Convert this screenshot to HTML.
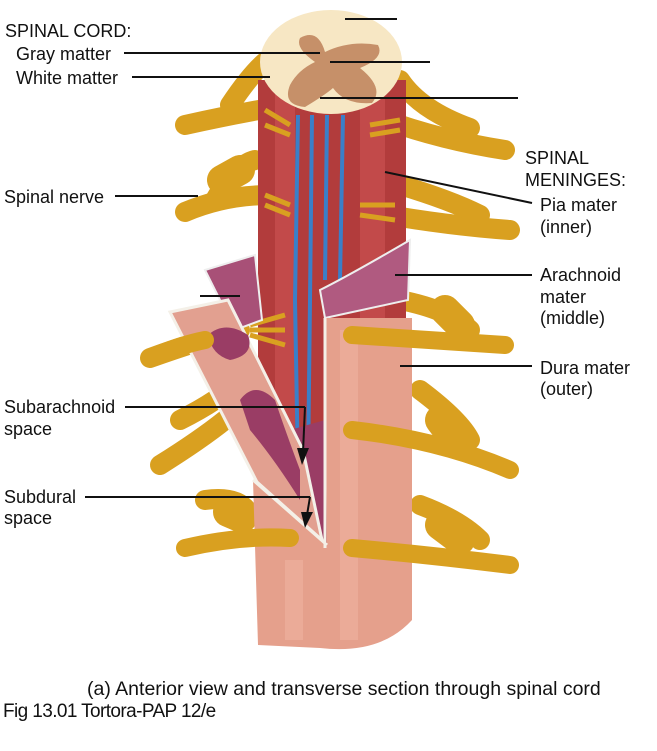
<!DOCTYPE html>
<html><head><meta charset="utf-8"><style>
body{margin:0;background:#fff;}
svg{display:block}
text{font-family:"Liberation Sans",sans-serif;font-size:18px;fill:#111}
</style></head><body>
<svg width="657" height="751" viewBox="0 0 657 751" xmlns="http://www.w3.org/2000/svg">
<g stroke-linecap="round" fill="none">
<g stroke="#d9a020" stroke-width="20">
<path d="M185 125 Q230 115 270 108"/>
<path d="M230 105 Q250 75 265 62"/>
<path d="M380 118 Q440 140 505 150"/>
<path d="M400 80 Q420 110 470 128"/>
<path d="M185 212 Q225 195 270 195"/>
<path d="M215 200 Q235 165 255 160"/>
<path d="M360 210 Q440 225 510 230"/>
<path d="M400 185 Q450 200 480 215"/>
<path d="M150 358 Q200 340 240 330"/>
<path d="M400 300 Q450 310 470 330"/>
<path d="M160 465 Q200 440 225 420"/>
<path d="M180 420 Q200 410 215 400"/>
<path d="M420 390 Q460 420 470 440"/>
<path d="M205 500 Q240 495 250 515"/>
<path d="M420 505 Q460 520 480 540"/>
</g>
<g stroke="#d9a020" stroke-width="30">
<path d="M222 180 L240 170"/>
<path d="M445 310 L460 325"/>
<path d="M440 420 L455 440"/>
<path d="M440 525 L460 540"/>
<path d="M228 512 L242 518"/>
</g>
</g>
<rect x="258" y="80" width="148" height="470" fill="#b23c3c"/>
<rect x="275" y="90" width="20" height="450" fill="#c95050" opacity=".7"/>
<rect x="360" y="90" width="25" height="280" fill="#c95050" opacity=".7"/>
<g stroke="#3a7fc8" stroke-width="4" fill="none">
<path d="M298 115 L295 300 L298 470"/>
<path d="M312 115 L310 300 L308 470"/>
<path d="M327 115 L325 280"/>
<path d="M343 115 L340 280"/>
</g>
<g stroke="#d9a020" stroke-width="5">
<path d="M265 110 L290 125 M265 125 L290 135 M370 125 L400 120 M370 135 L400 130"/>
<path d="M265 195 L290 205 M265 205 L290 215 M360 205 L395 205 M360 215 L395 220"/>
<path d="M250 325 L285 315 M250 330 L285 330 M250 335 L285 345"/>
</g>
<polygon points="205,270 255,255 262,320 235,330" fill="#a85077" stroke="#eee" stroke-width="2"/>
<path d="M320 290 Q350 275 410 240 L408 300 L325 318 Z" fill="#b05a80" stroke="#eee" stroke-width="2"/>
<polygon points="290,430 325,420 325,548 300,520" fill="#9a3d65"/>
<path d="M325 318 L412 318 L412 620 Q380 655 320 648 L258 645 L253 480 L327 545 Z" fill="#e5a08c"/>
<path d="M170 312 L228 300 L303 450 L322 540 L257 482 Z" fill="#e2a090" stroke="#f4f0e8" stroke-width="3"/>
<path d="M208 335 Q225 320 248 335 Q255 355 230 360 Q212 355 208 335 Z" fill="#9a3d65"/>
<path d="M240 400 Q255 380 275 400 Q285 430 300 470 L300 500 Q275 460 250 430 Z" fill="#9a3d65"/>
<path d="M325 318 L325 548" stroke="#f4f0e8" stroke-width="3"/>
<path d="M253 480 L327 545" stroke="#f4f0e8" stroke-width="3"/>
<rect x="340" y="330" width="18" height="310" fill="#eeb2a0" opacity=".6"/>
<rect x="285" y="560" width="18" height="80" fill="#eeb2a0" opacity=".6"/>
<g stroke="#d9a020" stroke-width="18" stroke-linecap="round" fill="none">
<path d="M352 335 Q430 340 505 345"/>
<path d="M352 430 Q440 440 510 470"/>
<path d="M352 548 Q430 555 510 565"/>
<path d="M185 548 Q240 535 290 538"/>
<path d="M150 358 Q180 345 205 340"/>
</g>
<ellipse cx="331" cy="62" rx="71" ry="52" fill="#f7e7c4"/>
<path d="M300 38 Q318 28 325 52 Q350 40 378 45 Q385 58 360 68 Q385 88 372 103 Q345 105 333 88 Q325 95 305 107 Q282 105 290 85 Q298 70 315 62 Q295 48 300 38Z" fill="#c69069"/>
<g stroke="#111" stroke-width="2">
<line x1="345" y1="19" x2="397" y2="19"/>
<line x1="124" y1="53" x2="320" y2="53"/>
<line x1="132" y1="77" x2="270" y2="77"/>
<line x1="330" y1="62" x2="430" y2="62"/>
<line x1="320" y1="98" x2="518" y2="98"/>
<line x1="115" y1="196" x2="198" y2="196"/>
<line x1="385" y1="172" x2="532" y2="203"/>
<line x1="395" y1="275" x2="532" y2="275"/>
<line x1="200" y1="296" x2="240" y2="296"/>
<line x1="400" y1="366" x2="532" y2="366"/>
<line x1="125" y1="407" x2="305" y2="407"/>
<line x1="305" y1="407" x2="303" y2="452"/>
<line x1="85" y1="497" x2="310" y2="497"/>
<line x1="310" y1="497" x2="307" y2="515"/>
</g>
<polygon points="297,448 309,448 302,465" fill="#111"/>
<polygon points="301,512 313,512 305,528" fill="#111"/>
<text x="5" y="37">SPINAL CORD:</text>
<text x="16" y="60">Gray matter</text>
<text x="16" y="84">White matter</text>
<text x="4" y="203">Spinal nerve</text>
<text x="525" y="164">SPINAL</text>
<text x="525" y="186">MENINGES:</text>
<text x="540" y="211">Pia mater</text>
<text x="540" y="233">(inner)</text>
<text x="540" y="281">Arachnoid</text>
<text x="540" y="303">mater</text>
<text x="540" y="324">(middle)</text>
<text x="540" y="374">Dura mater</text>
<text x="540" y="395">(outer)</text>
<text x="4" y="413">Subarachnoid</text>
<text x="4" y="435">space</text>
<text x="4" y="503">Subdural</text>
<text x="4" y="524">space</text>
<text x="87" y="695" style="font-size:19.5px">(a) Anterior view and transverse section through spinal cord</text>
<text x="3" y="717" style="font-size:19px;letter-spacing:-0.6px">Fig 13.01 Tortora-PAP 12/e</text>
</svg>
</body></html>
